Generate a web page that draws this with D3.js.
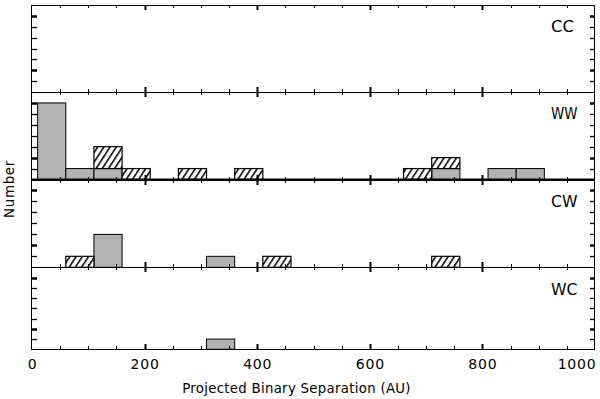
<!DOCTYPE html>
<html>
<head>
<meta charset="utf-8">
<script src="https://cdn.jsdelivr.net/npm/d3@7"></script>
<style>
  body { margin: 0; background: #fff; }
  text { font-family: "DejaVu Sans", sans-serif; fill: #000; }
</style>
</head>
<body>
<div id="chart"></div>
<script>
// histogram bins, 50 AU wide
var binStarts = [10, 60, 110, 160, 210, 260, 310, 360, 410, 460, 510, 560, 610, 660, 710, 760, 810, 860, 910];
var binWidth = 50;

var panelNames = ["CC", "WW", "CW", "WC"];

// counts per bin: grey = solid bars, hatched = stacked on top
var ccGrey    = [0, 0, 0, 0, 0, 0, 0, 0, 0, 0, 0, 0, 0, 0, 0, 0, 0, 0, 0];
var ccHatched = [0, 0, 0, 0, 0, 0, 0, 0, 0, 0, 0, 0, 0, 0, 0, 0, 0, 0, 0];
var wwGrey    = [7, 1, 1, 0, 0, 0, 0, 0, 0, 0, 0, 0, 0, 0, 1, 0, 1, 1, 0];
var wwHatched = [0, 0, 2, 1, 0, 1, 0, 1, 0, 0, 0, 0, 0, 1, 1, 0, 0, 0, 0];
var cwGrey    = [0, 0, 3, 0, 0, 0, 1, 0, 0, 0, 0, 0, 0, 0, 0, 0, 0, 0, 0];
var cwHatched = [0, 1, 0, 0, 0, 0, 0, 0, 1, 0, 0, 0, 0, 0, 1, 0, 0, 0, 0];
var wcGrey    = [0, 0, 0, 0, 0, 0, 1, 0, 0, 0, 0, 0, 0, 0, 0, 0, 0, 0, 0];
var wcHatched = [0, 0, 0, 0, 0, 0, 0, 0, 0, 0, 0, 0, 0, 0, 0, 0, 0, 0, 0];

var xTicks = [0, 200, 400, 600, 800, 1000];
var xMinorTicks = d3.range(50, 1000, 50);
var yMinorTicks = [1, 3, 4, 5, 6];
var yMajorTicks = [2, 7];

var greyData = [ccGrey, wwGrey, cwGrey, wcGrey];
var hatchData = [ccHatched, wwHatched, cwHatched, wcHatched];

var width = 600, height = 399;
// panel edges (top of first panel .. bottom of last)
var edges = [5, 92, 179.5, 267.3, 349.3];

var x = d3.scaleLinear()
    .domain([0, 1000])
    .range([32, 595]);

var svg = d3.select("#chart")
    .append("svg")
    .attr("width", width)
    .attr("height", height);

svg.append("rect")
    .attr("width", width)
    .attr("height", height)
    .attr("fill", "#fff");

// hatch pattern
var pat = svg.append("defs").append("pattern")
    .attr("id", "hatch")
    .attr("patternUnits", "userSpaceOnUse")
    .attr("width", 5.2)
    .attr("height", 5.2)
    .attr("patternTransform", "rotate(33)");
pat.append("rect")
    .attr("width", 5.2).attr("height", 5.2).attr("fill", "#fff");
pat.append("line")
    .attr("x1", 0).attr("y1", 0)
    .attr("x2", 0).attr("y2", 5.2)
    .attr("stroke", "#000")
    .attr("stroke-width", 3);

function crisp(v) { return Math.round(v) + 0.5; }

panelNames.forEach(function(name, i) {
    var top = edges[i], bottom = edges[i + 1];
    var y = d3.scaleLinear()
        .domain([0, 8])
        .range([bottom, top]);

    var g = svg.append("g").attr("class", "panel");

    var grey = greyData[i], hatched = hatchData[i];
    var bins = binStarts.map(function(b, k) {
        return {x0: b, x1: b + binWidth, grey: grey[k], hatched: hatched[k]};
    });

    // grey bars
    g.selectAll(".grey")
        .data(bins.filter(function(d) { return d.grey > 0; }))
        .enter()
        .append("rect")
        .attr("class", "grey")
        .attr("x", function(d) { return x(d.x0); })
        .attr("y", function(d) { return y(d.grey); })
        .attr("width", function(d) { return x(d.x1) - x(d.x0); })
        .attr("height", function(d) { return y(0) - y(d.grey); })
        .attr("fill", "#b2b2b2")
        .attr("stroke", "#000")
        .attr("stroke-width", 1);

    // hatched bars stacked on grey
    g.selectAll(".hatched")
        .data(bins.filter(function(d) { return d.hatched > 0; }))
        .enter()
        .append("rect")
        .attr("class", "hatched")
        .attr("x", function(d) { return x(d.x0); })
        .attr("y", function(d) { return y(d.grey + d.hatched); })
        .attr("width", function(d) { return x(d.x1) - x(d.x0); })
        .attr("height", function(d) { return y(d.grey) - y(d.grey + d.hatched); })
        .attr("fill", "url(#hatch)")
        .attr("stroke", "#000")
        .attr("stroke-width", 1.2);

    // frame
    g.append("rect")
        .attr("x", crisp(x(0)) - 1)
        .attr("y", crisp(top))
        .attr("width", Math.round(x(1000) - x(0)))
        .attr("height", Math.round(bottom) - Math.round(top))
        .attr("fill", "none")
        .attr("stroke", "#000")
        .attr("stroke-width", 1);

    // x ticks, pointing inward from top and bottom edges
    function xTickMarks(values, size, sw) {
        [[top, 1], [bottom, -1]].forEach(function(e) {
            g.append("g").selectAll("line")
                .data(values)
                .enter()
                .append("line")
                .attr("x1", function(d) { return crisp(x(d)); })
                .attr("x2", function(d) { return crisp(x(d)); })
                .attr("y1", Math.round(e[0]))
                .attr("y2", Math.round(e[0]) + e[1] * size)
                .attr("stroke", "#000")
                .attr("stroke-width", sw);
        });
    }
    xTickMarks(xMinorTicks.filter(function(d) { return d % 200 != 0; }), 3, 1);
    xTickMarks(xTicks.slice(1, -1), 5, 2);

    // y ticks, pointing inward from left and right edges
    function yTickMarks(values, size, sw) {
        [[x(0), 1], [x(1000), -1]].forEach(function(e) {
            g.append("g").selectAll("line")
                .data(values)
                .enter()
                .append("line")
                .attr("x1", Math.round(e[0]))
                .attr("x2", Math.round(e[0]) + e[1] * size)
                .attr("y1", function(d) { return crisp(y(d)); })
                .attr("y2", function(d) { return crisp(y(d)); })
                .attr("stroke", "#000")
                .attr("stroke-width", sw);
        });
    }
    yTickMarks(yMinorTicks, 5, 1.3);
    yTickMarks(yMajorTicks, 5, 2.5);

    // WW baseline drawn heavier
    if (name == "WW") {
        g.append("line")
            .attr("x1", x(0)).attr("x2", x(1000))
            .attr("y1", bottom).attr("y2", bottom)
            .attr("stroke", "#000")
            .attr("stroke-width", 2.2);
    }

    g.append("text")
        .attr("x", 551)
        .attr("y", top + 27.3)
        .style("font-size", "16.5px")
        .attr("textLength", name == "CC" ? 23 : 26.5)
        .attr("lengthAdjust", "spacingAndGlyphs")
        .text(name);
});

// x tick labels on the bottom panel
var labels = svg.append("g")
    .attr("transform", "translate(0," + edges[4] + ")")
    .call(d3.axisBottom(x).tickValues(xTicks).tickSize(0).tickPadding(10).tickFormat(d3.format("d")));
labels.select(".domain").remove();
labels.selectAll("text")
    .style("font-size", "14px")
    .style("font-family", "DejaVu Sans, sans-serif")
    .style("letter-spacing", "0.8px");
labels.selectAll(".tick").filter(function(d) { return d == 1000; })
    .select("text")
    .attr("text-anchor", "end")
    .attr("x", 1);

svg.append("text")
    .attr("x", (x(0) + x(1000)) / 2 - 17)
    .attr("y", 393)
    .attr("text-anchor", "middle")
    .style("font-size", "13.3px")
    .style("letter-spacing", "0.3px")
    .text("Projected Binary Separation (AU)");

svg.append("text")
    .attr("transform", "translate(14,189) rotate(-90)")
    .attr("text-anchor", "middle")
    .style("font-size", "13.5px")
    .style("letter-spacing", "0.6px")
    .text("Number");
</script>
</body>
</html>
